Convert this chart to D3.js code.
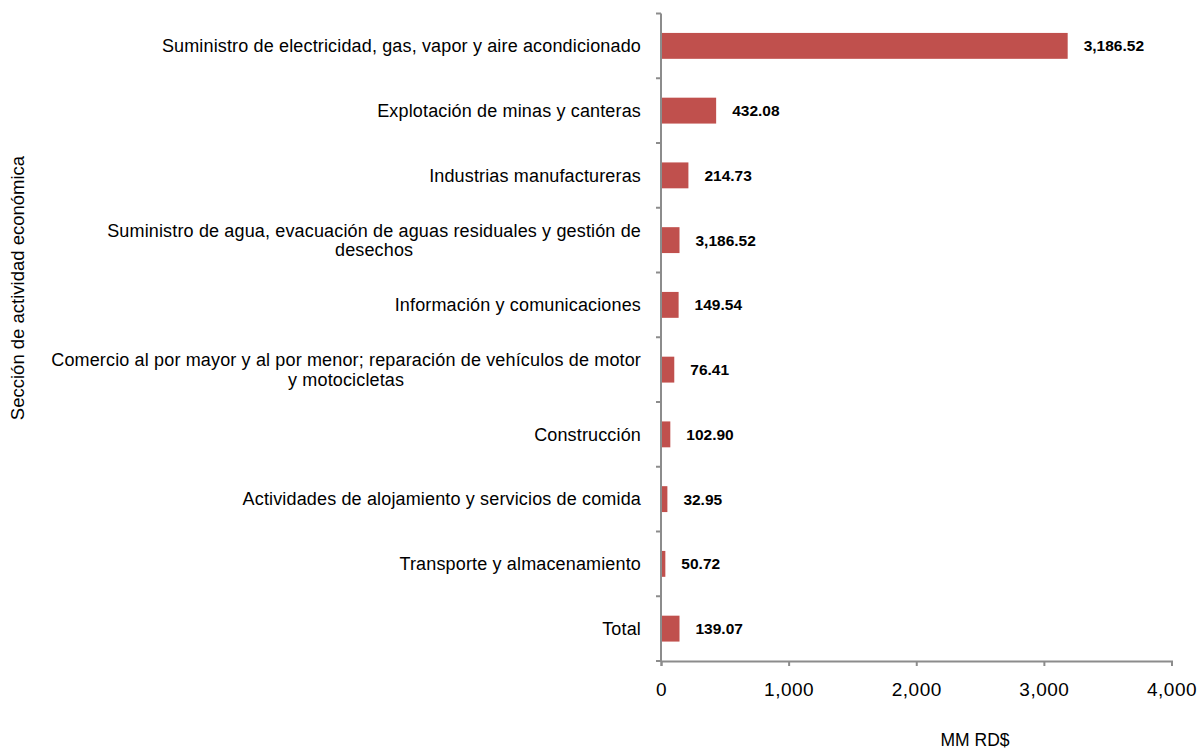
<!DOCTYPE html>
<html>
<head>
<meta charset="utf-8">
<script src="https://cdnjs.cloudflare.com/ajax/libs/d3/7.8.5/d3.min.js"></script>
<style>
  body { margin: 0; background: #fff; }
  text { font-family: "Liberation Sans", Arial, sans-serif; fill: #000; }
</style>
</head>
<body>
<div id="chart"></div>
<script>
// categories (each entry = lines of the label)
var categories = [
    ["Suministro de electricidad, gas, vapor y aire acondicionado"],
    ["Explotación de minas y canteras"],
    ["Industrias manufactureras"],
    ["Suministro de agua, evacuación de aguas residuales y gestión de", "desechos"],
    ["Información y comunicaciones"],
    ["Comercio al por mayor y al por menor; reparación de vehículos de motor", "y motocicletas"],
    ["Construcción"],
    ["Actividades de alojamiento y servicios de comida"],
    ["Transporte y almacenamiento"],
    ["Total"]
];
// bar lengths (MM RD$)
var values = [3186.52, 432.08, 214.73, 145, 138, 104, 73, 50, 34, 145];
// data labels as printed in the picture
var valueLabels = ["3,186.52", "432.08", "214.73", "3,186.52", "149.54", "76.41", "102.90", "32.95", "50.72", "139.07"];
var xTicks = [0, 1000, 2000, 3000, 4000];

var width = 1200, height = 752;
var svg = d3.select("#chart").append("svg")
    .attr("width", width)
    .attr("height", height);

var x = d3.scaleLinear().domain([0, 4000]).range([661, 1171.5]);
var y = d3.scaleBand()
    .domain(d3.range(categories.length))
    .range([13.5, 661])
    .paddingInner(0.6)
    .paddingOuter(0.3);

var axisColor = "#8c8c8c";

// bars
svg.selectAll(".bar")
    .data(values)
    .enter().append("rect")
    .attr("class", "bar")
    .attr("x", x(0) + 1)
    .attr("y", function(d, i) { return y(i) })
    .attr("width", function(d) { return x(d) - x(0) - 1 })
    .attr("height", y.bandwidth())
    .attr("fill", "#C0504D");

// value labels
svg.selectAll(".val")
    .data(values)
    .enter().append("text")
    .attr("class", "val")
    .attr("x", function(d) { return x(d) + 16 })
    .attr("y", function(d, i) { return y(i) + y.bandwidth() / 2 })
    .attr("dy", "0.35em")
    .style("font-size", "15.5px")
    .style("font-weight", "bold")
    .text(function(d, i) { return valueLabels[i] });

// y axis line + ticks at band boundaries
var yTop = y.range()[0], yBottom = y.range()[1];
svg.append("line")
    .attr("x1", x(0)).attr("x2", x(0))
    .attr("y1", yTop).attr("y2", yBottom)
    .attr("stroke", axisColor).attr("stroke-width", 2);
svg.selectAll(".ytick")
    .data(d3.range(categories.length + 1))
    .enter().append("line")
    .attr("x1", x(0) - 5).attr("x2", x(0))
    .attr("y1", function(i) { return yTop + i * y.step() })
    .attr("y2", function(i) { return yTop + i * y.step() })
    .attr("stroke", axisColor).attr("stroke-width", 2);

// x axis
var xAxis = svg.append("g")
    .attr("transform", "translate(0," + yBottom + ")")
    .call(d3.axisBottom(x).tickValues(xTicks).tickFormat(d3.format(",")).tickSize(5).tickPadding(17));
xAxis.select(".domain").attr("stroke", axisColor).attr("stroke-width", 2);
xAxis.selectAll(".tick line").attr("stroke", axisColor).attr("stroke-width", 2);
xAxis.selectAll(".tick text")
    .style("font-family", "'Liberation Sans', Arial, sans-serif")
    .style("font-size", "19px")
    .style("letter-spacing", "0.5px")
    .attr("fill", "#000");

// category labels: block right-aligned, lines centered
var lineH = 19.5;
categories.forEach(function(lines, i) {
    var g = svg.append("g");
    var cy = y(i) + y.bandwidth() / 2;
    var texts = g.selectAll("text")
        .data(lines)
        .enter().append("text")
        .attr("y", function(d, j) { return cy + (j - (lines.length - 1) / 2) * lineH })
        .attr("dy", "0.35em")
        .style("font-size", "18px")
        .style("letter-spacing", "0.15px")
        .style("text-anchor", "middle")
        .text(function(d) { return d });
    var maxW = d3.max(texts.nodes(), function(n) { return n.getComputedTextLength() });
    texts.attr("x", 641 - maxW / 2);
});

// axis titles
svg.append("text")
    .attr("x", 975)
    .attr("y", 746)
    .style("font-size", "17.5px")
    .style("text-anchor", "middle")
    .text("MM RD$");

svg.append("text")
    .attr("transform", "translate(18,288) rotate(-90)")
    .attr("dy", "0.35em")
    .style("font-size", "18.5px")
    .style("text-anchor", "middle")
    .text("Sección de actividad económica");
</script>
</body>
</html>
